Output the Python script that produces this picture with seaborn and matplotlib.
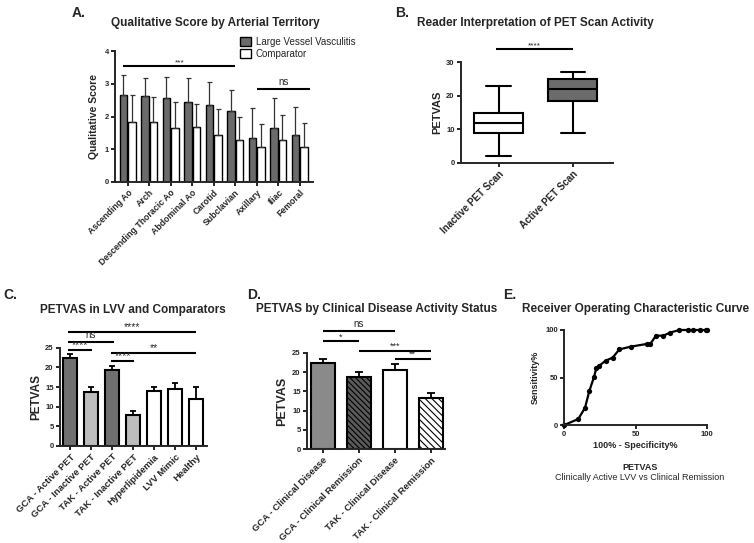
import numpy as np
import pandas as pd
import matplotlib
matplotlib.use("Agg")
import matplotlib.pyplot as plt
import seaborn as sns

sns.set_style("ticks")
plt.rcParams['font.family'] = ['Liberation Sans', 'DejaVu Sans']
plt.rcParams['hatch.linewidth'] = 0.8

# ---- data ----
# A. qualitative score by territory (mean, SD)
territories = ["Ascending Ao", "Arch", "Descending Thoracic Ao", "Abdominal Ao",
               "Carotid", "Subclavian", "Axillary", "Iliac", "Femoral"]
lvv_mean = [2.67, 2.64, 2.58, 2.44, 2.34, 2.18, 1.33, 1.64, 1.43]
lvv_sd = [0.61, 0.54, 0.64, 0.75, 0.72, 0.64, 0.93, 0.93, 0.87]
comp_mean = [1.82, 1.82, 1.66, 1.68, 1.44, 1.27, 1.08, 1.27, 1.08]
comp_sd = [0.85, 0.79, 0.77, 0.70, 0.79, 0.72, 0.70, 0.78, 0.73]

# B. PETVAS box summaries (min, q1, median, q3, max)
scan_groups = ["Inactive PET Scan", "Active PET Scan"]
inactive_box = [2, 9, 12, 15, 23]
active_box = [9, 18.5, 22, 25, 27]

# C. PETVAS in LVV and comparators (mean, SEM)
groups_c = ["GCA - Active PET", "GCA - Inactive PET", "TAK - Active PET",
            "TAK - Inactive PET", "Hyperlipidemia", "LVV Mimic", "Healthy"]
petvas_c = [22.5, 13.7, 19.3, 7.9, 14.0, 14.4, 12.0]
sem_c = [0.8, 1.2, 1.0, 0.9, 0.9, 1.7, 3.0]

# D. PETVAS by clinical activity (mean, SEM)
groups_d = ["GCA - Clinical Disease", "GCA - Clinical Remission",
            "TAK - Clinical Disease", "TAK - Clinical Remission"]
petvas_d = [22.4, 18.7, 20.5, 13.2]
sem_d = [1.0, 1.2, 1.6, 1.3]

# E. ROC curve
fpr = [0, 9.8, 14.5, 17.5, 20.7, 22.4, 24.2, 28.9, 33.8, 38.5, 46.6, 57.6,
       60.1, 64.1, 69.2, 73.9, 80.4, 86.7, 90.2, 94.9, 98.8, 100]
tpr = [0, 6.3, 18.2, 35.8, 50.2, 59.6, 62.1, 67.7, 70.9, 79.6, 82.5, 85.3,
       85.3, 94, 94, 97.2, 100, 100, 100, 100, 100, 100]

# significance bars: (x1, x2, y, label)
sig_a = [(-0.2, 5.0, 3.54, "***"), (6.0, 8.5, 2.84, "ns")]
sig_b = [(-0.03, 1.0, 34, "****")]
sig_c = [(-0.1, 6.0, 28.9, "****"), (-0.1, 2.1, 26.5, "ns"), (-0.1, 1.05, 24.3, "****"),
         (1.95, 6.0, 23.7, "**"), (1.95, 3.05, 21.6, "****")]
sig_d = [(0, 2.0, 30.5, "ns"), (0, 1.0, 27.9, "*"), (1.0, 3.0, 25.5, "***"), (2.0, 3.0, 23.4, "**")]

W, H = 754, 543
fig = plt.figure(figsize=(W / 100, H / 100), dpi=100)


def px_axes(left, top, right, bottom):
    return fig.add_axes([left / W, 1 - bottom / H, (right - left) / W, (bottom - top) / H])


def style(ax, lw=1.4):
    sns.despine(ax=ax)
    for s in ["left", "bottom"]:
        ax.spines[s].set_linewidth(lw)
    ax.tick_params(width=lw, length=3, pad=1.5, labelsize=5.5)
    for t in ax.get_yticklabels():
        t.set_fontweight("bold")
    ax.set_xlabel("")


def rot_labels(ax, labels, size=6.3):
    ax.set_xticks(range(len(labels)))
    ax.set_xticklabels(labels, rotation=45, ha="right", rotation_mode="anchor",
                       fontsize=size, fontweight="bold")


def sig(ax, items, star_size=6, lw=1.5):
    for x1, x2, y, lab in items:
        ax.plot([x1, x2], [y, y], color="black", lw=lw, clip_on=False, solid_capstyle="butt")
        mid = (x1 + x2) / 2
        if lab == "ns":
            ax.annotate(lab, xy=(mid, y), xytext=(0, 1.5), textcoords="offset points",
                        ha="center", va="bottom", fontsize=7, annotation_clip=False)
        else:
            ax.annotate(lab, xy=(mid, y), xytext=(0, 0.2 * star_size),
                        textcoords="offset points", ha="center", va="baseline",
                        fontsize=star_size, annotation_clip=False)


# ---------- A ----------
axA = px_axes(115, 51, 313, 182)
dfA = pd.DataFrame({
    "territory": territories * 2,
    "score": lvv_mean + comp_mean,
    "group": ["Large Vessel Vasculitis"] * len(territories) + ["Comparator"] * len(territories),
})
sns.barplot(data=dfA, x="territory", y="score", hue="group", order=territories,
            palette=["#6b6b6b", "white"], edgecolor="black", linewidth=1.0,
            gap=0.12, errorbar=None, ax=axA)
for cont, sd in zip(axA.containers, [lvv_sd, comp_sd]):
    xs = [p.get_x() + p.get_width() / 2 for p in cont]
    ys = [p.get_height() for p in cont]
    axA.errorbar(xs, ys, yerr=[np.zeros(len(sd)), sd], fmt="none", ecolor="#333333",
                 elinewidth=0.9, capsize=1.8, capthick=0.9, zorder=1)
axA.set_ylim(0, 4)
axA.set_yticks([0, 1, 2, 3, 4])
axA.set_xlim(-0.59, 8.62)
style(axA)
rot_labels(axA, territories)
axA.set_ylabel("Qualitative Score", fontsize=7.5, fontweight="bold", labelpad=4)
h, l = axA.get_legend_handles_labels()
axA.legend(h, l, loc="upper left", bbox_to_anchor=(240 / W, 1 - 37 / H),
           bbox_transform=fig.transFigure, frameon=False, fontsize=7,
           handlelength=1.1, handleheight=1.1, handletextpad=0.5, labelspacing=0.2,
           borderaxespad=0, borderpad=0)
sig(axA, sig_a, star_size=6)
fig.text(215 / W, 1 - 23 / H, "Qualitative Score by Arterial Territory", ha="center",
         va="center", fontsize=8.5, fontweight="bold")
fig.text(72 / W, 1 - 13 / H, "A.", ha="left", va="center", fontsize=10, fontweight="bold")

# ---------- B ----------
axB = px_axes(461, 62.3, 613, 162.7)
dfB = pd.DataFrame({
    "scan": [scan_groups[0]] * 5 + [scan_groups[1]] * 5,
    "petvas": inactive_box + active_box,
})
sns.boxplot(data=dfB, x="scan", y="petvas", hue="scan", order=scan_groups,
            palette=["white", "#6b6b6b"], whis=(0, 100), width=0.66, linecolor="black",
            linewidth=1.5, legend=False, ax=axB)
axB.set_ylim(0, 30)
axB.set_yticks([0, 10, 20, 30])
axB.set_xlim(-0.507, 1.54)
style(axB)
rot_labels(axB, scan_groups, size=7)
axB.set_ylabel("PETVAS", fontsize=8, fontweight="bold", labelpad=3)
sig(axB, sig_b, star_size=6)
fig.text(535 / W, 1 - 23 / H, "Reader Interpretation of PET Scan Activity", ha="center",
         va="center", fontsize=8.5, fontweight="bold")
fig.text(395 / W, 1 - 13 / H, "B.", ha="left", va="center", fontsize=10, fontweight="bold")

# ---------- C ----------
axC = px_axes(60, 347.7, 207, 446)
colors_c = ["#707070", "#bdbdbd", "#707070", "#bdbdbd", "white", "white", "white"]
sns.barplot(x=groups_c, y=petvas_c, hue=groups_c, palette=colors_c, legend=False,
            edgecolor="black", linewidth=1.5, width=0.67, errorbar=None, ax=axC)
xs = [p.get_x() + p.get_width() / 2 for p in axC.patches]
axC.errorbar(xs, petvas_c, yerr=[np.zeros(len(sem_c)), sem_c], fmt="none", ecolor="black",
             elinewidth=1.3, capsize=2.5, capthick=1.3, zorder=1)
axC.set_ylim(0, 25)
axC.set_yticks([0, 5, 10, 15, 20, 25])
axC.set_xlim(-0.48, 6.52)
style(axC)
rot_labels(axC, groups_c, size=6.8)
axC.set_ylabel("PETVAS", fontsize=8.5, fontweight="bold", labelpad=2)
sig(axC, sig_c, star_size=7.5)
fig.text(133 / W, 1 - 310 / H, "PETVAS in LVV and Comparators", ha="center",
         va="center", fontsize=8.5, fontweight="bold")
fig.text(3 / W, 1 - 295 / H, "C.", ha="left", va="center", fontsize=10, fontweight="bold")

# ---------- D ----------
axD = px_axes(307, 352.7, 445, 449.3)
colors_d = ["#8a8a8a", "#5a5a5a", "white", "white"]
sns.barplot(x=groups_d, y=petvas_d, hue=groups_d, palette=colors_d, legend=False,
            edgecolor="black", linewidth=1.5, width=0.67, errorbar=None, ax=axD)
for p, hatch in zip(axD.patches, ["", "\\\\\\\\\\\\", "", "\\\\\\\\\\"]):
    p.set_hatch(hatch)
xs = [p.get_x() + p.get_width() / 2 for p in axD.patches]
axD.errorbar(xs, petvas_d, yerr=[np.zeros(len(sem_d)), sem_d], fmt="none", ecolor="black",
             elinewidth=1.3, capsize=3, capthick=1.3, zorder=1)
axD.set_ylim(0, 25)
axD.set_yticks([0, 5, 10, 15, 20, 25])
axD.set_xlim(-0.44, 3.4)
style(axD)
rot_labels(axD, groups_d, size=6.8)
axD.set_ylabel("PETVAS", fontsize=9, fontweight="bold", labelpad=3)
sig(axD, sig_d, star_size=6.5)
fig.text(377 / W, 1 - 309 / H, "PETVAS by Clinical Disease Activity Status", ha="center",
         va="center", fontsize=8.5, fontweight="bold")
fig.text(247 / W, 1 - 295 / H, "D.", ha="left", va="center", fontsize=10, fontweight="bold")

# ---------- E ----------
axE = px_axes(564.3, 330, 707.3, 425)
sns.lineplot(x=fpr, y=tpr, sort=False, estimator=None, color="black", linewidth=1.6,
             marker="o", markersize=3.8, markeredgewidth=0, ax=axE, clip_on=False)
axE.set_xlim(0, 100)
axE.set_ylim(0, 100)
axE.set_xticks([0, 50, 100])
axE.set_yticks([0, 50, 100])
style(axE)
for t in axE.get_xticklabels():
    t.set_fontweight("bold")
axE.set_xlabel("100% - Specificity%", fontsize=6.5, fontweight="bold", labelpad=2)
axE.set_ylabel("Sensitivity%", fontsize=6.5, fontweight="bold", labelpad=4)
fig.text(636 / W, 1 - 309 / H, "Receiver Operating Characteristic Curve", ha="center",
         va="center", fontsize=8.5, fontweight="bold")
fig.text(503 / W, 1 - 295 / H, "E.", ha="left", va="center", fontsize=10, fontweight="bold")
fig.text(640 / W, 1 - 468 / H, "PETVAS", ha="center", va="center", fontsize=6.5, fontweight="bold")
fig.text(640 / W, 1 - 478 / H, "Clinically Active LVV vs Clinical Remission", ha="center",
         va="center", fontsize=6.5)

fig.savefig("out.png", dpi=100)
